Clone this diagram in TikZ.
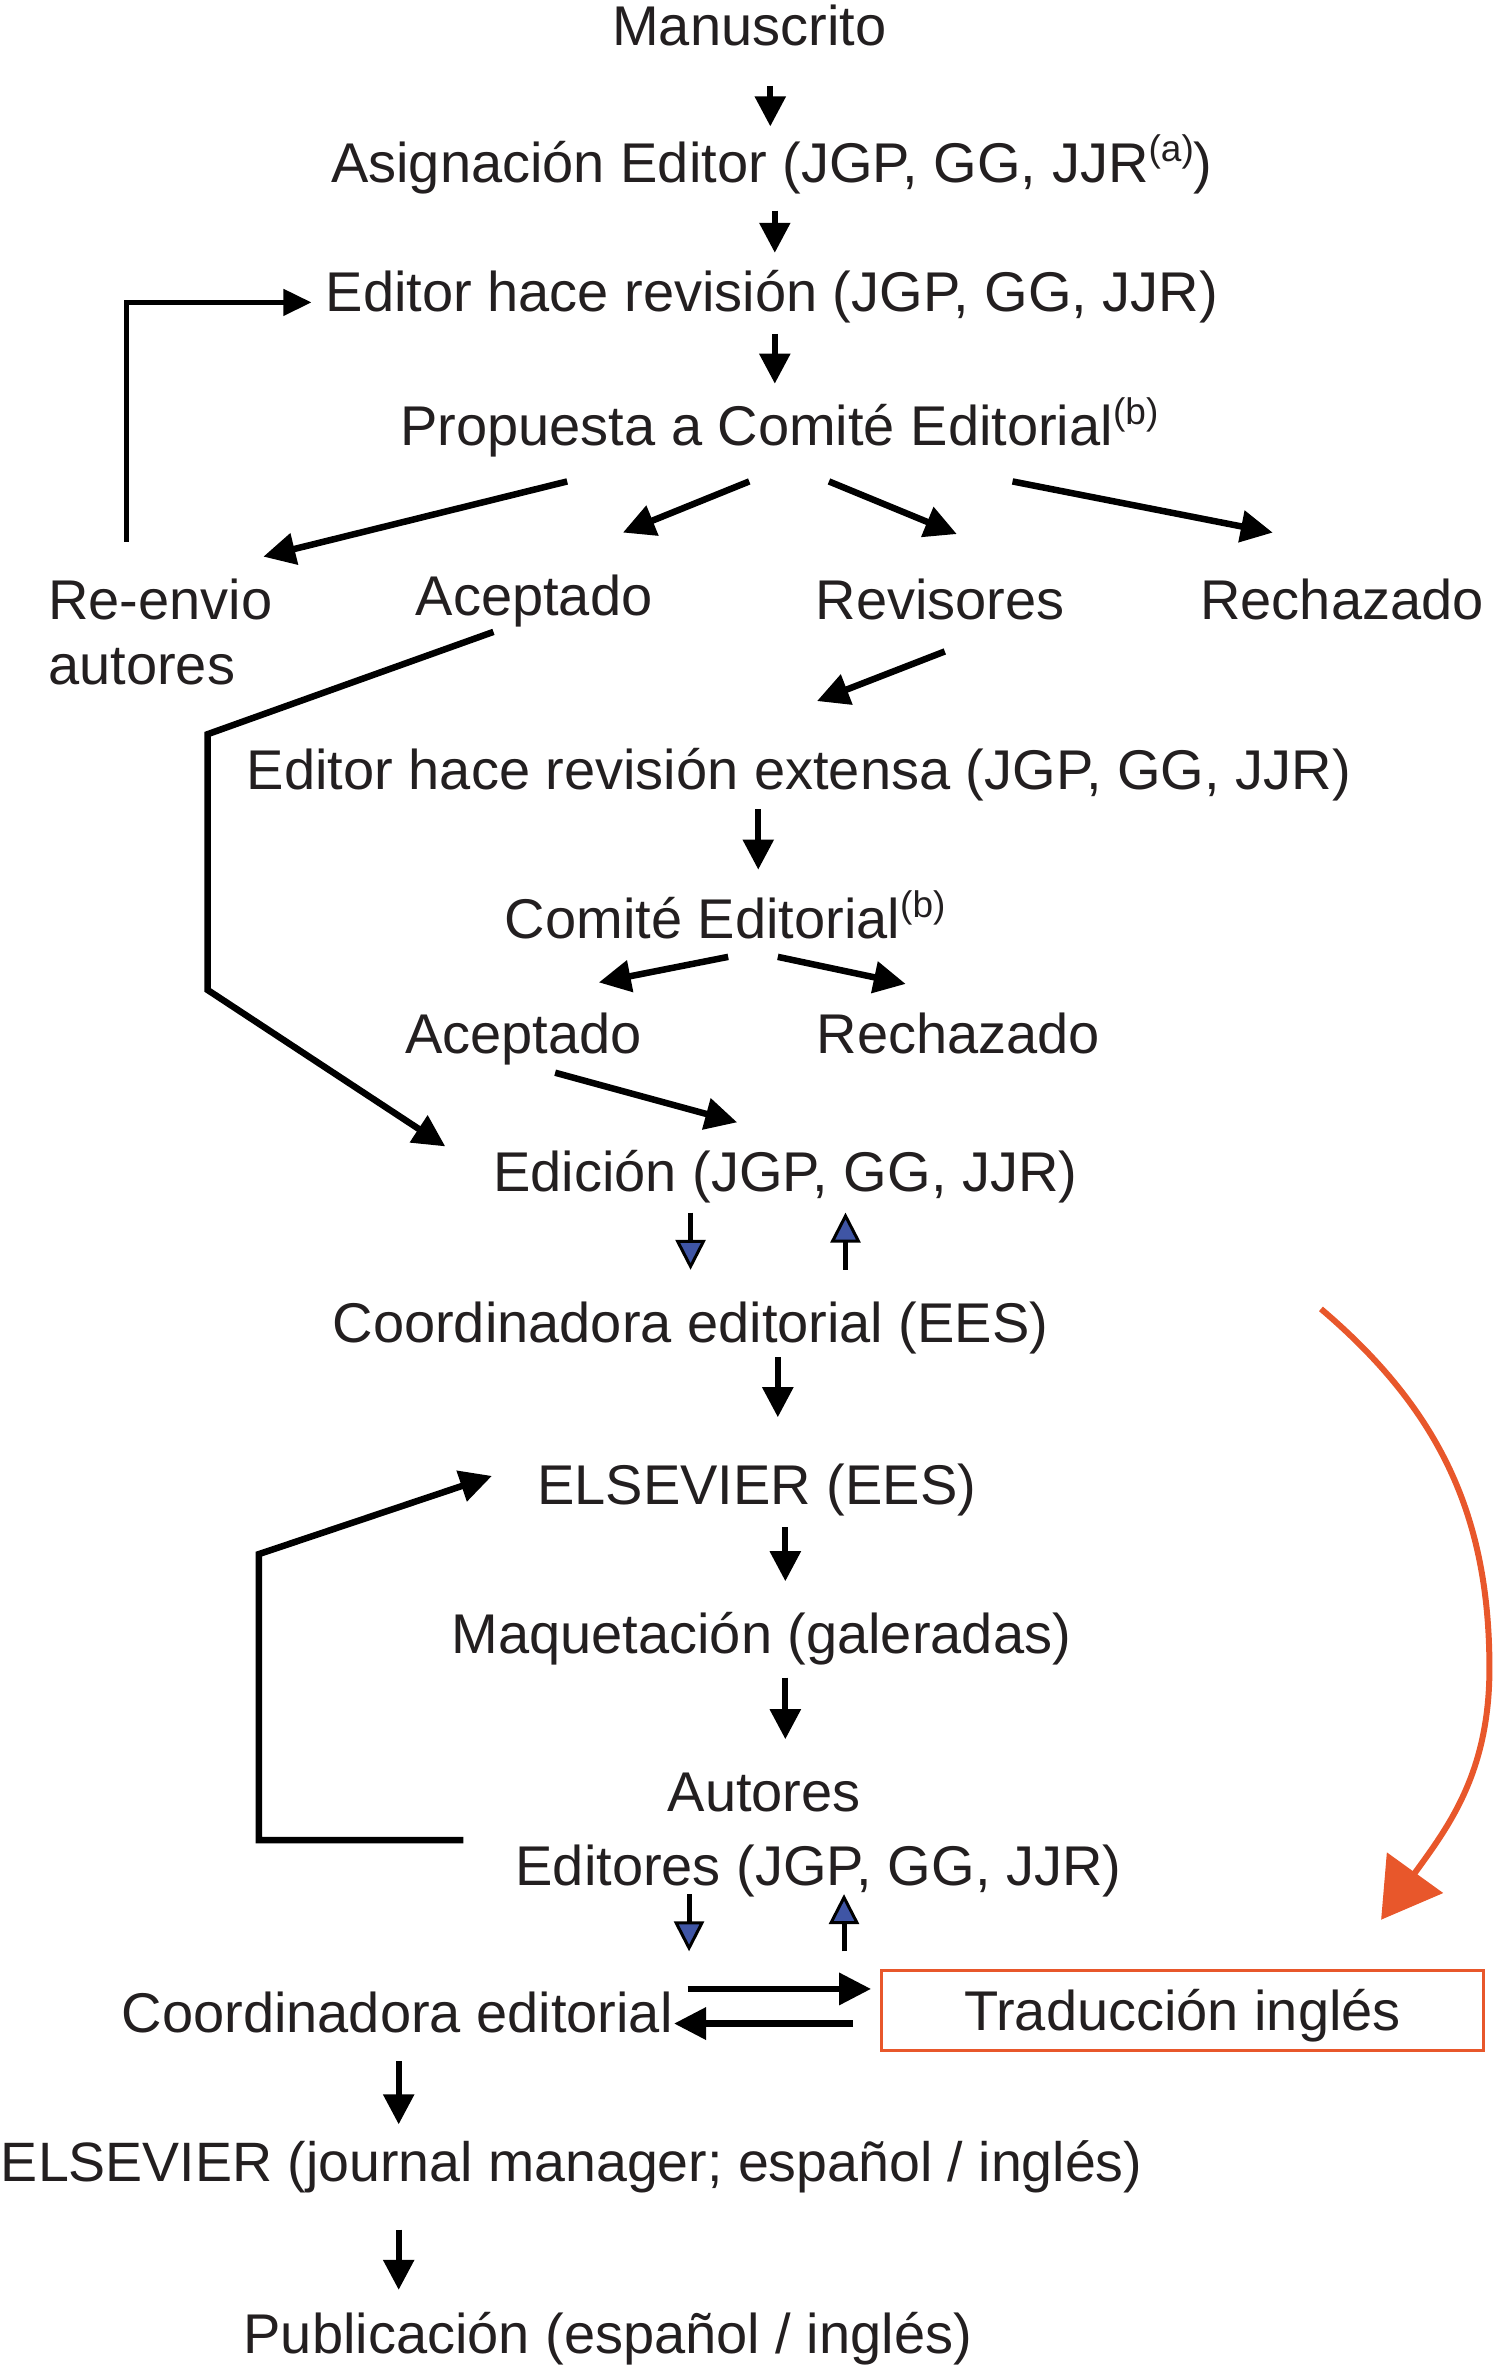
\documentclass[tikz,border=0pt]{standalone}
\usepackage{fontspec}
\setmainfont{Liberation Sans}
\usetikzlibrary{arrows.meta}
\definecolor{txt}{HTML}{231F20}
\definecolor{org}{HTML}{E8572B}
\definecolor{blu}{HTML}{3F55A5}
\newcommand{\supr}[1]{\raisebox{21pt}{\fontsize{37}{40}\selectfont #1}}
\begin{document}
\begin{tikzpicture}[x=1.5045pt,y=-1.5045pt,
  lbl/.style={anchor=base,inner sep=0pt,text=txt,font=\fontsize{56}{64}\selectfont},
  arr/.style={line width=5.7pt,-{Triangle[length=30pt,width=30pt]}},
  thk/.style={line width=6.5pt,-{Triangle[length=32pt,width=31pt]}},
  barr/.style={line width=5pt,-{Triangle[length=30pt,width=30pt,fill=blu,line width=3pt]},draw=black},
  ]
\useasboundingbox (0,0) rectangle (993,1573.3);
% texts
\node[lbl] (man) at (498,30) {Manuscrito};
\node[lbl] (asig) at (513,121) {Asignación Editor (JGP, GG, JJR\supr{(a)})};
\node[lbl] (rev) at (513,207) {Editor hace revisión (JGP, GG, JJR)};
\node[lbl] (prop) at (518,296) {Propuesta a Comité Editorial\supr{(b)}};
\node[lbl,anchor=base west] (reenv) at (32,412) {Re-envio};
\node[lbl,anchor=base west] (reaut) at (32,455) {autores};
\node[lbl] (acep1) at (355,409) {Aceptado};
\node[lbl] (revs) at (625,412) {Revisores};
\node[lbl] (rech1) at (892,412) {Rechazado};
\node[lbl] (ext) at (531,525) {Editor hace revisión extensa (JGP, GG, JJR)};
\node[lbl] (com) at (482,624) {Comité Editorial\supr{(b)}};
\node[lbl] (acep2) at (348,700) {Aceptado};
\node[lbl] (rech2) at (637,700) {Rechazado};
\node[lbl] (edic) at (522,792) {Edición (JGP, GG, JJR)};
\node[lbl] (coord1) at (459,892) {Coordinadora editorial (EES)};
\node[lbl] (els1) at (503,1000) {ELSEVIER (EES)};
\node[lbl] (maq) at (506,1099) {Maquetación (galeradas)};
\node[lbl] (aut) at (508,1204) {Autores};
\node[lbl] (edts) at (544,1253) {Editores (JGP, GG, JJR)};
\node[lbl] (coord2) at (264,1351) {Coordinadora editorial};
\node[draw=org,line width=3pt,minimum width=400*1.5045pt,minimum height=53*1.5045pt,inner sep=0pt,text height=40pt,text depth=0pt,text=txt,font=\fontsize{56}{64}\selectfont] (trad) at (786,1336.5) {Traducción inglés};
\node[lbl,font=\fontsize{55.5}{64}\selectfont] (els2) at (380,1450) {ELSEVIER (journal manager; español / inglés)};
\node[lbl] (pub) at (404,1564) {Publicación (español / inglés)};
% vertical arrows
\draw[arr] (512,57) -- (512,84);
\draw[arr] (515,140) -- (515,168);
\draw[arr] (515,222) -- (515,255);
\draw[arr] (504,538) -- (504,578);
\draw[arr] (517,902) -- (517,942);
\draw[arr] (522,1015) -- (522,1051);
\draw[arr] (522,1115) -- (522,1156);
\draw[arr] (265,1370) -- (265,1412);
\draw[arr] (265,1482) -- (265,1522);
% re-envio loop
\draw[line width=4.5pt,-{Triangle[length=28pt,width=26pt]}] (84,360) -- (84,201) -- (207,201);
% propuesta branches
\draw[thk] (377,320) -- (175,370);
\draw[thk] (498,320) -- (414,354);
\draw[thk] (551,320) -- (636,355);
\draw[thk] (673,320) -- (846,354);
% aceptado long path
\draw[thk] (328,420) -- (138,488) -- (138,658) -- (296,762);
\draw[thk] (628,433) -- (543,466);
% comite branches
\draw[thk] (484,636) -- (398,653);
\draw[thk] (517,636) -- (602,654);
\draw[thk] (369,713) -- (490,746);
% blue arrows
\draw[barr] (459,806) -- (459,844);
\draw[barr] (562,844) -- (562,806);
\draw[barr] (458,1259) -- (458,1297);
\draw[barr] (561,1297) -- (561,1259);
% elsevier loop
\draw[thk] (308,1223) -- (172,1223) -- (172,1033) -- (327,981);
% orange curve
\draw[org,line width=6pt,-{Triangle[length=58pt,width=68pt]}] (878,870) .. controls (958,938) and (990,1009) .. (990,1109) .. controls (990,1179) and (962,1215) .. (918,1276);
% translation arrows
\draw[thk] (457,1322) -- (579,1322);
\draw[thk] (567,1345) -- (448,1345);
\end{tikzpicture}
\end{document}
